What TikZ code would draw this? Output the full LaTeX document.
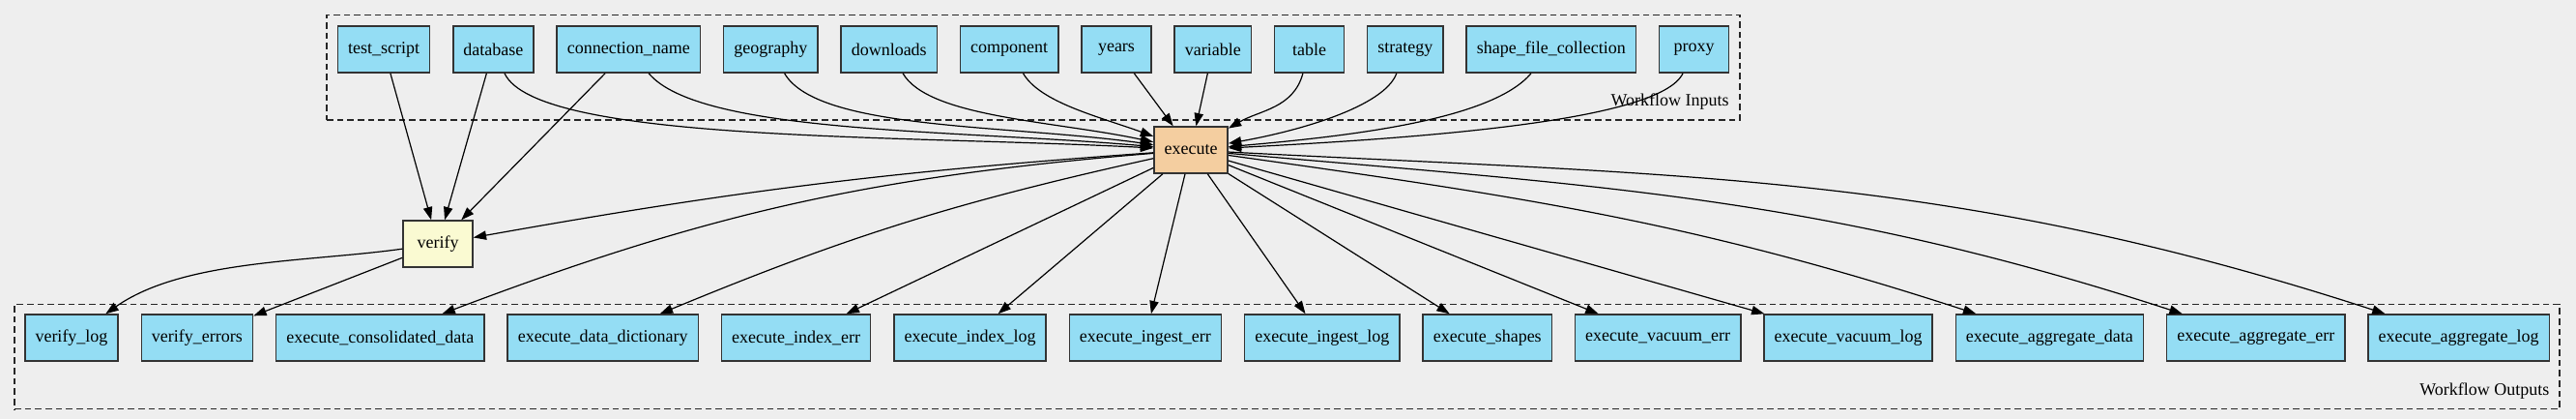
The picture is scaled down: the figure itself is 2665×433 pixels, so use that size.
\documentclass[tikz,border=0pt]{standalone}
\usepackage{fontspec}
\setmainfont{Liberation Serif}
\usetikzlibrary{arrows.meta,positioning,fit}

\definecolor{bgcol}{RGB}{238,238,238}
\definecolor{ioblue}{RGB}{148,221,244}
\definecolor{exetan}{RGB}{244,206,160}
\definecolor{veryel}{RGB}{250,250,210}

\begin{document}
\begin{tikzpicture}[x=.75pt,y=.75pt,->,>={Triangle[length=10pt,width=7pt]},line width=.9pt,
	node distance=17pt,
	io/.style={draw=black!80,line width=1.1pt,fill=ioblue,minimum width=54pt,
		minimum height=36pt,inner xsep=8pt,font=\fontsize{13.5}{16}\selectfont},
	job/.style={io,fill=#1},
	lbl/.style={inner sep=0pt,font=\fontsize{13.5}{16}\selectfont},
	cluster/.style={draw=black!85,line width=1pt,dash pattern=on 5pt off 3pt,inner sep=8pt}]

	\fill[bgcol,-] (0,0) rectangle (2665,-433);

	% workflow inputs
	\node[io] (tscript) at (397,-51) {test\_script};
	\node[io,right=of tscript] (db) {database};
	\node[io,right=of db] (cname) {connection\_name};
	\node[io,right=of cname] (geo) {geography};
	\node[io,right=of geo] (dl) {downloads};
	\node[io,right=of dl] (comp) {component};
	\node[io,right=of comp] (years) {years};
	\node[io,right=of years] (var) {variable};
	\node[io,right=of var] (tbl) {table};
	\node[io,right=of tbl] (strat) {strategy};
	\node[io,right=of strat] (sfc) {shape\_file\_collection};
	\node[io,right=of sfc] (proxy) {proxy};
	\node[lbl,anchor=north east] (inlbl) at ([yshift=-15pt]proxy.south east) {Workflow Inputs};
	\node[cluster,fit=(tscript)(proxy)(inlbl)] (inputs) {};

	% jobs
	\node[job=exetan] (exe) at (1232,-155) {execute};
	\node[job=veryel] (ver) at (453,-252) {verify};

	% workflow outputs
	\node[io] (vlog) at (74,-349) {verify\_log};
	\node[io,right=of vlog] (verr) {verify\_errors};
	\node[io,right=of verr] (cons) {execute\_consolidated\_data};
	\node[io,right=of cons] (ddict) {execute\_data\_dictionary};
	\node[io,right=of ddict] (ierr) {execute\_index\_err};
	\node[io,right=of ierr] (ilog) {execute\_index\_log};
	\node[io,right=of ilog] (ingerr) {execute\_ingest\_err};
	\node[io,right=of ingerr] (inglog) {execute\_ingest\_log};
	\node[io,right=of inglog] (shapes) {execute\_shapes};
	\node[io,right=of shapes] (vacerr) {execute\_vacuum\_err};
	\node[io,right=of vacerr] (vaclog) {execute\_vacuum\_log};
	\node[io,right=of vaclog] (aggdata) {execute\_aggregate\_data};
	\node[io,right=of aggdata] (aggerr) {execute\_aggregate\_err};
	\node[io,right=of aggerr] (agglog) {execute\_aggregate\_log};
	\node[lbl,anchor=north east] (outlbl) at ([yshift=-16pt]agglog.south east) {Workflow Outputs};
	\node[cluster,fit=(vlog)(agglog)(outlbl),inner sep=7.5pt] (outputs) {};

	\path (tscript) edge (ver)
		  (db) edge (ver)
		  (db) edge[out=-65,in=177,out looseness=.3] (exe)
		  (cname) edge (ver)
		  (cname) edge[out=-50,in=175,out looseness=.4] (exe)
		  (geo) edge[out=-60,in=172,out looseness=.45] (exe)
		  (dl) edge[out=-60,in=168,out looseness=.5] (exe)
		  (comp) edge[out=-60,in=160,out looseness=.6] (exe)
		  (years) edge (exe)
		  (var) edge (exe)
		  (tbl) edge[out=-105,in=30] (exe)
		  (strat) edge[out=-110,in=10,out looseness=.5] (exe)
		  (sfc) edge[out=-130,in=5,out looseness=.5] (exe)
		  (proxy) edge[out=-115,in=3,out looseness=.3] (exe);

	\path (exe) edge[bend right=3] (ver)
			  edge[bend right=8] (cons)
			  edge[bend right=5] (ddict)
			  edge (ierr)
			  edge (ilog)
			  edge (ingerr)
			  edge (inglog)
			  edge (shapes)
			  edge (vacerr)
			  edge (vaclog)
			  edge[out=-8,in=162] (aggdata)
			  edge[out=-5,in=162] (aggerr)
			  edge[out=-3,in=162] (agglog)
		  (ver) edge[out=188,in=35,looseness=.8] (vlog)
			  edge (verr);
\end{tikzpicture}
\end{document}
